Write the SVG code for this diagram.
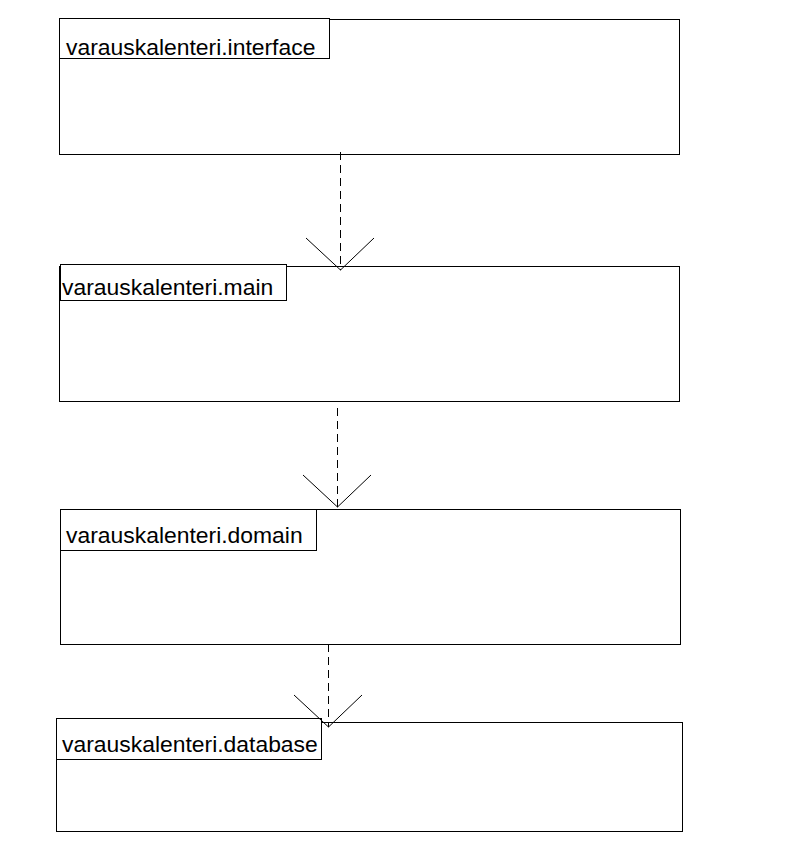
<svg xmlns="http://www.w3.org/2000/svg" width="786" height="850" viewBox="0 0 786 850">
  <style>
    .frame { fill: none; stroke: #000; stroke-width: 1; }
    .tab { fill: #fff; stroke: #000; stroke-width: 1; }
    .label { font-family: "Liberation Sans", Arial, sans-serif; font-size: 22.9px; fill: #000; }
    .dep { fill: none; stroke: #000; stroke-width: 1; stroke-dasharray: 8 5; }
    .head { fill: none; stroke: #000; stroke-width: 1; }
  </style>
  <rect x="0" y="0" width="786" height="850" fill="#fff"/>

  <g id="pkg-interface">
    <rect class="frame" x="59.5" y="19.5" width="620" height="135"/>
    <rect class="tab" x="59.5" y="18.5" width="270" height="40"/>
    <text class="label" x="66" y="55">varauskalenteri.interface</text>
  </g>

  <g id="pkg-main">
    <rect class="frame" x="59.5" y="266.5" width="620" height="135"/>
    <rect class="tab" x="60.5" y="264.5" width="226" height="36"/>
    <text class="label" x="62" y="295">varauskalenteri.main</text>
  </g>

  <g id="pkg-domain">
    <rect class="frame" x="60.5" y="509.5" width="620" height="135"/>
    <rect class="tab" x="60.5" y="509.5" width="256" height="41"/>
    <text class="label" x="66" y="543">varauskalenteri.domain</text>
  </g>

  <g id="pkg-database">
    <rect class="frame" x="56.5" y="722.5" width="626" height="109"/>
    <rect class="tab" x="56.5" y="718.5" width="265" height="41"/>
    <text class="label" x="62" y="752">varauskalenteri.database</text>
  </g>

  <g id="connectors">
    <line class="dep" x1="340.5" y1="152" x2="340.5" y2="270"/>
    <polyline class="head" points="306,238 340.5,270 374,238"/>

    <line class="dep" x1="337.5" y1="408" x2="337.5" y2="507"/>
    <polyline class="head" points="303,475 337.5,507 371,475"/>

    <line class="dep" x1="328.5" y1="644" x2="328.5" y2="727"/>
    <polyline class="head" points="294,695 328.5,727 362,695"/>
  </g>
</svg>
